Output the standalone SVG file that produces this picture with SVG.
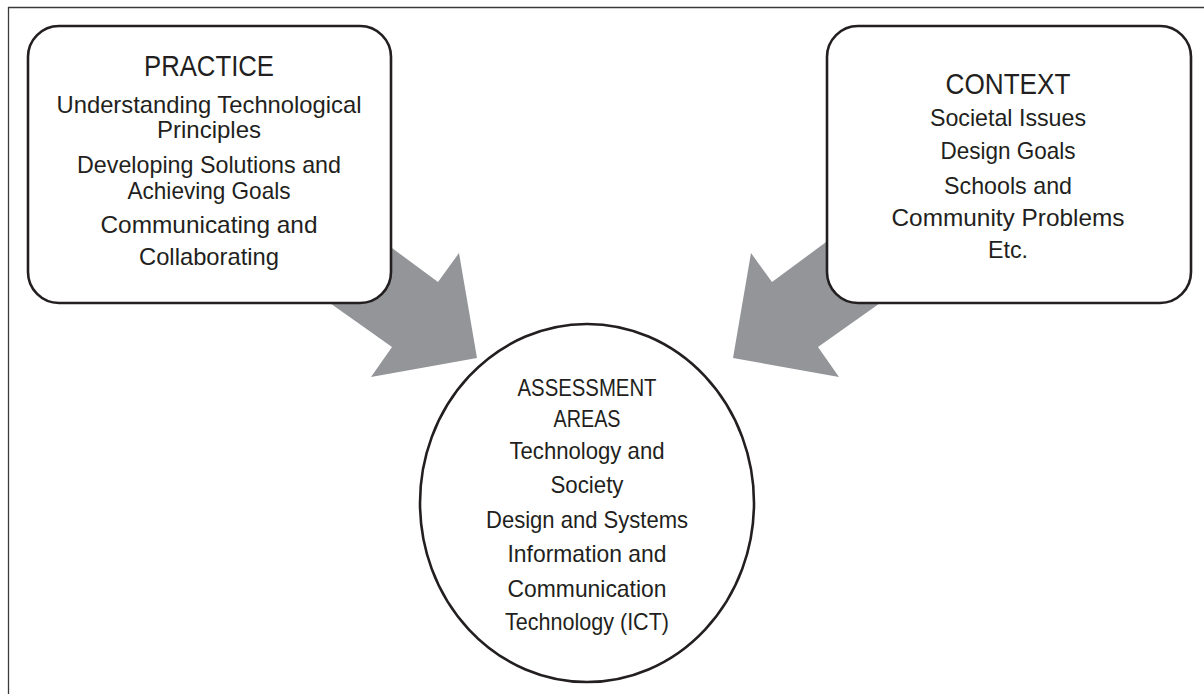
<svg xmlns="http://www.w3.org/2000/svg" width="1204" height="694" viewBox="0 0 1204 694">
  <style>
    .frame { stroke: #3a3a3a; stroke-width: 1.3; fill: none; }
    .box { fill: #ffffff; stroke: #231f20; stroke-width: 2.6; }
    .arrow { fill: #939598; stroke: none; }
    .head { font-family: "Liberation Sans", Arial, sans-serif; font-size: 30px; fill: #231f20; text-anchor: middle; }
    .body { font-family: "Liberation Sans", Arial, sans-serif; font-size: 24px; fill: #231f20; text-anchor: middle; }
  </style>
  <rect width="1204" height="694" fill="#ffffff"/>
  <g id="frame">
    <line class="frame" x1="8" y1="7.5" x2="1204" y2="7.5"/>
    <line class="frame" x1="8.5" y1="7" x2="8.5" y2="694"/>
  </g>
  <g id="connectors">
    <polygon class="arrow" points="346,214 438,282 459,253 477,358 371,377 392,347 303,284"/>
    <polygon class="arrow" points="864,214 772,282 751,253 733,358 839,377 818,347 907,284"/>
  </g>
  <g id="practice">
    <rect class="box" x="28" y="26" width="363" height="277" rx="31" ry="31"/>
    <text class="head" x="209" y="76" textLength="130" lengthAdjust="spacingAndGlyphs">PRACTICE</text>
    <text class="body" x="209" y="113" textLength="305" lengthAdjust="spacingAndGlyphs">Understanding Technological</text>
    <text class="body" x="209" y="138" textLength="104" lengthAdjust="spacingAndGlyphs">Principles</text>
    <text class="body" x="209" y="173" textLength="264" lengthAdjust="spacingAndGlyphs">Developing Solutions and</text>
    <text class="body" x="209" y="199" textLength="163" lengthAdjust="spacingAndGlyphs">Achieving Goals</text>
    <text class="body" x="209" y="233" textLength="217" lengthAdjust="spacingAndGlyphs">Communicating and</text>
    <text class="body" x="209" y="265" textLength="140" lengthAdjust="spacingAndGlyphs">Collaborating</text>
  </g>
  <g id="context">
    <rect class="box" x="827" y="26" width="364" height="277" rx="31" ry="31"/>
    <text class="head" x="1008" y="94" textLength="125" lengthAdjust="spacingAndGlyphs">CONTEXT</text>
    <text class="body" x="1008" y="126" textLength="156" lengthAdjust="spacingAndGlyphs">Societal Issues</text>
    <text class="body" x="1008" y="159" textLength="135" lengthAdjust="spacingAndGlyphs">Design Goals</text>
    <text class="body" x="1008" y="194" textLength="128" lengthAdjust="spacingAndGlyphs">Schools and</text>
    <text class="body" x="1008" y="226" textLength="233" lengthAdjust="spacingAndGlyphs">Community Problems</text>
    <text class="body" x="1008" y="258" textLength="40" lengthAdjust="spacingAndGlyphs">Etc.</text>
  </g>
  <g id="assessment">
    <ellipse class="box" cx="587" cy="503" rx="167" ry="179" stroke-width="2.2"/>
    <text class="body" x="587" y="396" textLength="139" lengthAdjust="spacingAndGlyphs" font-size="26">ASSESSMENT</text>
    <text class="body" x="587" y="427" textLength="67" lengthAdjust="spacingAndGlyphs" font-size="26">AREAS</text>
    <text class="body" x="587" y="459" textLength="155" lengthAdjust="spacingAndGlyphs">Technology and</text>
    <text class="body" x="587" y="493" textLength="73" lengthAdjust="spacingAndGlyphs">Society</text>
    <text class="body" x="587" y="528" textLength="202" lengthAdjust="spacingAndGlyphs">Design and Systems</text>
    <text class="body" x="587" y="562" textLength="159" lengthAdjust="spacingAndGlyphs">Information and</text>
    <text class="body" x="587" y="597" textLength="159" lengthAdjust="spacingAndGlyphs">Communication</text>
    <text class="body" x="587" y="630" textLength="164" lengthAdjust="spacingAndGlyphs">Technology (ICT)</text>
  </g>
</svg>
